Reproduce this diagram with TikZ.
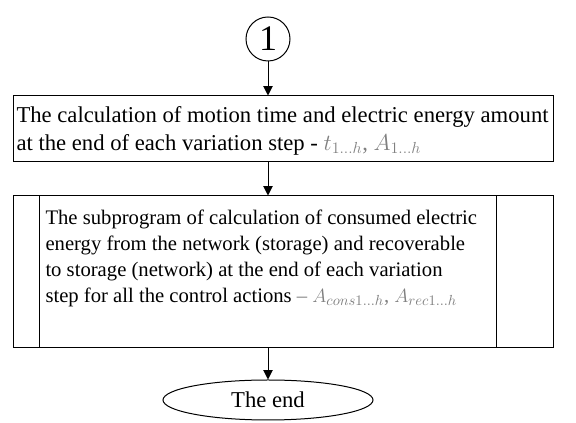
\documentclass[tikz,border=0pt]{standalone}
\usepackage{fontspec}
\setmainfont{Liberation Serif}
\usepackage{amsmath}
\usetikzlibrary{shapes.geometric,arrows.meta,positioning}

\begin{document}
\begin{tikzpicture}[
  x=0.75pt, y=-0.75pt,
  >={Triangle[length=7pt, width=7pt]},
  blk/.style={draw, rectangle, minimum width=405pt, inner sep=0pt},
  txt/.style={font=\fontsize{17}{21}\selectfont, align=left, inner sep=0pt},
  every path/.style={line width=0.75pt},
]
\useasboundingbox (0,0) rectangle (576,423);
% nodes
\node[draw, circle, minimum size=33pt, inner sep=0pt, font=\fontsize{27}{27}\selectfont] (con) at (268,39) {1};
\node[blk, minimum height=49.5pt] (calc) at (283,129) {};
\node[txt, anchor=north west] (calctxt) at (16,106)
  {The calculation of motion time and electric energy amount\\
   at the end of each variation step - \textcolor{gray}{$t_{1\ldots h}$, $A_{1\ldots h}$}};
\node[blk, minimum height=114pt] (subp) at (283,272) {};
\draw ([xshift=20.25pt]subp.north west) -- ([xshift=20.25pt]subp.south west);
\draw ([xshift=-42.75pt]subp.north east) -- ([xshift=-42.75pt]subp.south east);
\node[txt, font=\fontsize{15.5}{19.5}\selectfont, anchor=north west] (subtxt) at (45,209)
  {The subprogram of calculation of consumed electric\\
   energy from the network (storage) and recoverable\\
   to storage (network) at the end of each variation\\
   step for all the control actions \textcolor{gray}{--\ $A_{cons1\ldots h}$, $A_{rec1\ldots h}$}};
\node[draw, ellipse, minimum width=157.5pt, minimum height=30pt, inner sep=0pt, font=\fontsize{17}{20}\selectfont] (fin) at (268,400) {The end};
% edges
\draw[->] (con) -- (con |- calc.north);
\draw[->] (con |- calc.south) -- (con |- subp.north);
\draw[->] (con |- subp.south) -- (fin);
\end{tikzpicture}
\end{document}
